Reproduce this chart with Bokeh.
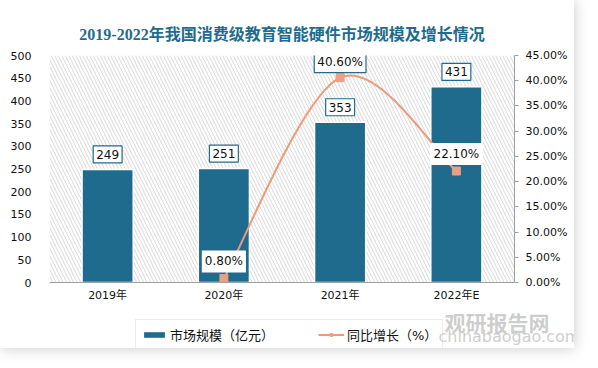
from bokeh.plotting import figure
from bokeh.layouts import column, row
from bokeh.models import (ColumnDataSource, Range1d, LinearAxis, FactorRange, Legend,
                          LegendItem, SingleIntervalTicker, CustomJSTickFormatter, Title)
from bokeh.core.properties import value
from bokeh.embed import file_html
from bokeh.resources import INLINE

years = ["2019年", "2020年", "2021年", "2022年E"]
market = [249, 251, 353, 431]
growth_years = ["2020年", "2021年", "2022年E"]
growth = [0.80, 40.60, 22.10]
series_names = ["市场规模（亿元）", "同比增长（%）"]
title_text = "2019-2022年我国消费级教育智能硬件市场规模及增长情况"

BAR = "#1e6b8e"
LINE = "#ec9a78"
MARK = "#e9a083"
FONT = "'DejaVu Sans', 'Noto Sans CJK SC', sans-serif"

p = figure(width=574, height=307, x_range=FactorRange(*years), y_range=Range1d(0, 500),
           output_backend="svg", toolbar_location=None, tools="",
           min_border_left=49, min_border_right=60, min_border_top=55, min_border_bottom=25)
p.extra_y_ranges = {"pct": Range1d(0, 45)}
p.outline_line_color = None
p.grid.visible = False
p.background_fill_color = "white"
p.border_fill_color = "white"

# hatched plot background
p.quad(left=[0], right=[len(years)], bottom=[0], top=[500], fill_color="white",
       line_color=None, hatch_pattern="\\", hatch_color="#cdcdcd", hatch_scale=7,
       hatch_weight=0.8)

# bars
src = ColumnDataSource(dict(x=years, y=market, t=[str(v) for v in market]))
p.vbar(x="x", top="y", width=0.44, source=src, fill_color=BAR, line_color="white",
       line_width=1.5)
p.text(x="x", y="y", text="t", source=src, text_align="center", text_baseline="middle",
       y_offset=-15, text_font=value("DejaVu Sans"), text_font_size="12px", text_color="#111",
       background_fill_color="white", border_line_color=BAR, border_line_width=1.2, padding=[3, 4])

# smooth growth line (bezier through data points)
xs = [years.index(g) + 0.5 for g in growth_years]
n = len(xs)
b = dict(x0=[], y0=[], x1=[], y1=[], cx0=[], cy0=[], cx1=[], cy1=[])
for i in range(n - 1):
    pm = (xs[max(i - 1, 0)], growth[max(i - 1, 0)])
    p0 = (xs[i], growth[i])
    p1 = (xs[i + 1], growth[i + 1])
    p2 = (xs[min(i + 2, n - 1)], growth[min(i + 2, n - 1)])
    b["x0"].append(p0[0]); b["y0"].append(p0[1])
    b["x1"].append(p1[0]); b["y1"].append(p1[1])
    b["cx0"].append(p0[0] + (p1[0] - pm[0]) / 6); b["cy0"].append(p0[1] + (p1[1] - pm[1]) / 6)
    b["cx1"].append(p1[0] - (p2[0] - p0[0]) / 6); b["cy1"].append(p1[1] - (p2[1] - p0[1]) / 6)
p.bezier(x0="x0", y0="y0", x1="x1", y1="y1", cx0="cx0", cy0="cy0", cx1="cx1", cy1="cy1",
         source=ColumnDataSource(b), line_color=LINE, line_width=2, y_range_name="pct")
gsrc = ColumnDataSource(dict(x=growth_years, y=growth))
p.scatter(x="x", y="y", source=gsrc, marker="square", size=8, fill_color=MARK,
          line_color=MARK, y_range_name="pct")
peak = growth.index(max(growth))
bsrc = ColumnDataSource(dict(x=[growth_years[peak]], y=[growth[peak]], t=["%.2f%%" % growth[peak]]))
osrc = ColumnDataSource(dict(x=[g for i, g in enumerate(growth_years) if i != peak],
                             y=[v for i, v in enumerate(growth) if i != peak],
                             t=["%.2f%%" % v for i, v in enumerate(growth) if i != peak]))
p.text(x="x", y="y", text="t", source=bsrc, y_range_name="pct", text_align="center",
       text_baseline="middle", y_offset=-16, text_font=value("DejaVu Sans"), text_font_size="12px",
       text_color="#111", background_fill_color="white", border_line_color=BAR,
       border_line_width=1.2, padding=[3, 4])
p.text(x="x", y="y", text="t", source=osrc, y_range_name="pct", text_align="center",
       text_baseline="middle", y_offset=-17, text_font=value("DejaVu Sans"), text_font_size="12px",
       text_color="#111", background_fill_color="white", padding=[3, 4])

# axes
ax = p.xaxis[0]
ax.axis_line_color = "#a0a0a0"
ax.major_tick_line_color = None
ax.minor_tick_line_color = None
ax.major_tick_out = 0
ax.major_label_standoff = 6
ax.major_label_text_font = FONT
ax.major_label_text_font_size = "11px"
ax.major_label_text_color = "#111"

ay = p.yaxis[0]
ay.ticker = SingleIntervalTicker(interval=50)
ay.axis_line_color = None
ay.major_tick_line_color = None
ay.minor_tick_line_color = None
ay.major_label_standoff = 12
ay.major_label_text_font = FONT
ay.major_label_text_font_size = "11px"
ay.major_label_text_color = "#111"

ry = LinearAxis(y_range_name="pct", ticker=SingleIntervalTicker(interval=5),
                formatter=CustomJSTickFormatter(code="return tick.toFixed(2) + '%'"))
ry.axis_line_color = "#a0a0a0"
ry.major_tick_line_color = "#a0a0a0"
ry.major_tick_in = 0
ry.major_tick_out = 4
ry.minor_tick_line_color = None
ry.major_label_standoff = 7
ry.major_label_text_font = FONT
ry.major_label_text_font_size = "11px"
ry.major_label_text_color = "#111"
p.add_layout(ry, "right")

p.title = Title(text=title_text, align="center",
                text_font_size="16px", text_font="'Liberation Serif', 'Noto Sans CJK SC', serif",
                text_font_style="bold", text_color="#1f6b8e", standoff=25)

# bottom strip: legend + watermark
q = figure(width=574, height=41, x_range=Range1d(0, 574), y_range=Range1d(0, 41),
           output_backend="svg", toolbar_location=None, tools="", min_border=0,
           x_axis_location=None, y_axis_location=None)
q.grid.visible = False
q.outline_line_color = None
q.background_fill_color = "white"
q.border_fill_color = "white"
q.text(x=[444], y=[27], text=["观研报告网"], text_align="left", text_baseline="middle",
       text_font_size="21px", text_font=value("Noto Sans CJK SC"), text_font_style="bold",
       text_color="#bdbdbd", text_alpha=0.75)
q.text(x=[438], y=[12], text=["chinabaogao.com"], text_align="left", text_baseline="middle",
       text_font_size="16px", text_font=value("DejaVu Sans"), text_color="#bdbdbd", text_alpha=0.75)
lb = q.vbar(x=[-100], top=[-100], width=1, fill_color=BAR, line_color=None)
ll = q.line(x=[-100, -90], y=[-100, -100], line_color=LINE, line_width=2)
ls = q.scatter(x=[-100], y=[-100], marker="square", size=8, fill_color=MARK, line_color=MARK)
legend = Legend(items=[LegendItem(label=series_names[0], renderers=[lb]),
                       LegendItem(label=series_names[1], renderers=[ll, ls])],
                orientation="horizontal", location=(135, -2),
                border_line_color="#d9d9d9", background_fill_alpha=0.0,
                label_text_font=FONT, label_text_font_size="13px", label_text_color="#111",
                glyph_width=26, glyph_height=7, label_standoff=3, spacing=44, padding=5,
                margin=0)
q.add_layout(legend, "center")

card = column(p, row(q), spacing=0,
              styles={"box-shadow": "0 0 14px rgba(0,0,0,0.22)", "background": "white"})
layout = column(card, spacing=0)

open("out.html", "w").write(file_html(layout, INLINE))
